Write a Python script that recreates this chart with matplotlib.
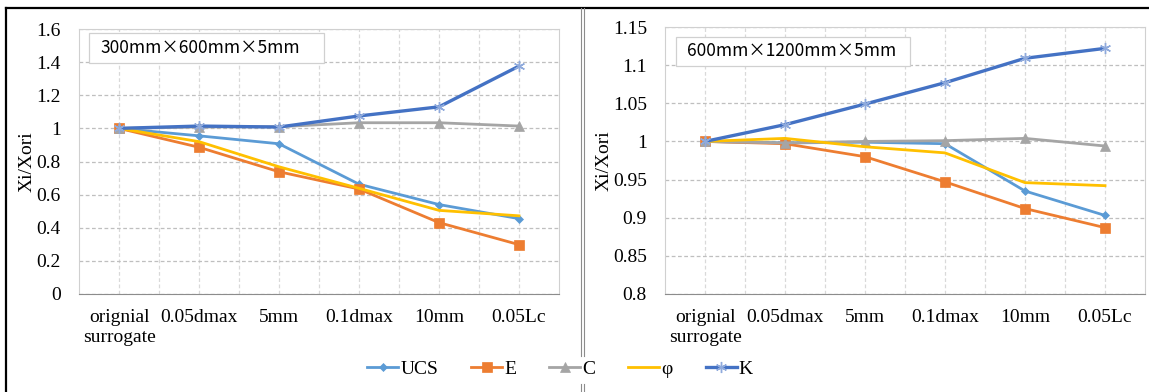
import numpy as np
import matplotlib.pyplot as plt
from matplotlib.lines import Line2D
from matplotlib.patches import Rectangle

categories = ['orignial\nsurrogate', '0.05dmax', '5mm', '0.1dmax', '10mm', '0.05Lc']

# left panel: 300mm x 600mm x 5mm
ucs_a = [1.0, 0.955, 0.907, 0.663, 0.540, 0.455]
e_a = [1.0, 0.886, 0.738, 0.634, 0.431, 0.298]
c_a = [1.0, 1.008, 1.010, 1.034, 1.034, 1.014]
phi_a = [1.0, 0.920, 0.768, 0.638, 0.505, 0.472]
k_a = [1.0, 1.014, 1.008, 1.075, 1.130, 1.376]

# right panel: 600mm x 1200mm x 5mm
ucs_b = [1.0, 0.998, 0.999, 0.997, 0.935, 0.903]
e_b = [1.0, 0.997, 0.980, 0.947, 0.912, 0.887]
c_b = [1.0, 0.998, 1.000, 1.001, 1.004, 0.994]
phi_b = [1.0, 1.004, 0.993, 0.985, 0.946, 0.942]
k_b = [1.0, 1.022, 1.049, 1.077, 1.109, 1.122]

names = ['UCS', 'E', 'C', 'φ', 'K']
colors = ['#5B9BD5', '#ED7D31', '#A5A5A5', '#FFC000', '#4472C4']
markers = ['D', 's', '^', None, (6, 2, 0)]
msizes = [4, 7, 7, 0, 8]

serif = 'Liberation Serif'
W, H = 1149, 392
fig = plt.figure(figsize=(W / 100, H / 100), dpi=100)


def panel(rect, series, ylim, yticks, ytlabels, note, box_px):
    ax = fig.add_axes(rect)
    x = np.arange(len(categories))
    for vals, name, col, mk, ms in zip(series, names, colors, markers, msizes):
        lw = 2.4 if name == 'K' else 2.0
        ax.plot(x, vals, color=col, lw=lw, marker=mk, markersize=ms,
                markeredgewidth=1.0 if name == 'K' else 0.5,
                markeredgecolor='#8FAADC' if name == 'K' else col,
                label=name, zorder=3)
    ax.set_xlim(-0.5, len(categories) - 0.5)
    ax.set_ylim(*ylim)
    ax.set_yticks(yticks)
    ax.set_yticklabels(ytlabels, fontfamily=serif, fontsize=14)
    ax.set_xticks(x)
    ax.set_xticklabels(categories, fontfamily=serif, fontsize=14, linespacing=1.2)
    ax.set_xticks(np.arange(0.5, len(categories) - 1), minor=True)
    ax.tick_params(which='both', length=0)
    ax.tick_params(axis='x', pad=11)
    ax.tick_params(axis='y', pad=13)
    ax.grid(axis='y', color='#BFBFBF', ls=(0, (3, 2)), lw=0.9)
    ax.grid(axis='x', which='both', color='#D9D9D9', ls=(0, (3, 2)), lw=0.9)
    ax.set_axisbelow(True)
    for s in ['top', 'right', 'left']:
        ax.spines[s].set_color('#D0D0D0')
    ax.spines['bottom'].set_color('#8C8C8C')
    ax.set_ylabel('Xi/Xori', fontfamily=serif, fontsize=14)

    # fixed-size note box, given in figure pixels (x0, x1, ytop, ybottom)
    x0, x1, yt, yb = box_px
    fig.add_artist(Rectangle((x0 / W, 1 - yb / H), (x1 - x0) / W, (yb - yt) / H,
                             transform=fig.transFigure, fc='white', ec='#D0D0D0',
                             lw=0.9, zorder=5))
    fig.text((x0 + 11) / W, 1 - (yt + yb) / 2 / H, note, fontsize=12.5,
             family=['Noto Sans CJK SC', 'DejaVu Sans'], va='center', ha='left', zorder=6)
    return ax


ax1 = panel([79 / W, 1 - 294 / H, 480 / W, 265 / H],
            [ucs_a, e_a, c_a, phi_a, k_a], (0, 1.6),
            np.arange(0, 1.61, 0.2), ['0', '0.2', '0.4', '0.6', '0.8', '1', '1.2', '1.4', '1.6'],
            '300mm×600mm×5mm', (89, 324, 33, 63))
ax1.yaxis.set_label_coords(-0.09, 0.5)

ax2 = panel([665 / W, 1 - 294 / H, 480 / W, 267 / H],
            [ucs_b, e_b, c_b, phi_b, k_b], (0.8, 1.15),
            np.arange(0.8, 1.151, 0.05), ['0.8', '0.85', '0.9', '0.95', '1', '1.05', '1.1', '1.15'],
            '600mm×1200mm×5mm', (676, 910, 37, 66))
ax2.yaxis.set_label_coords(-0.11, 0.5)

# outer frame and divider
fig.add_artist(Line2D([6 / W, 1], [1 - 8 / H, 1 - 8 / H], color='black', lw=1.6))
fig.add_artist(Line2D([6 / W, 6 / W], [0, 1 - 8 / H], color='black', lw=1.6))
for xd in (581, 584):
    fig.add_artist(Line2D([xd / W, xd / W], [1 - 8 / H, 1 - 356 / H], color='#8C8C8C', lw=0.8))
    fig.add_artist(Line2D([xd / W, xd / W], [1 - 384 / H, 0], color='#8C8C8C', lw=0.8))

handles, labels = ax1.get_legend_handles_labels()
fig.legend(handles, labels, loc='center', bbox_to_anchor=(560 / W, 1 - 369 / H),
           ncol=5, frameon=False, prop={'family': serif, 'size': 14},
           handlelength=1.6, handletextpad=0.1, columnspacing=1.7)

fig.savefig('out.png', dpi=100)
